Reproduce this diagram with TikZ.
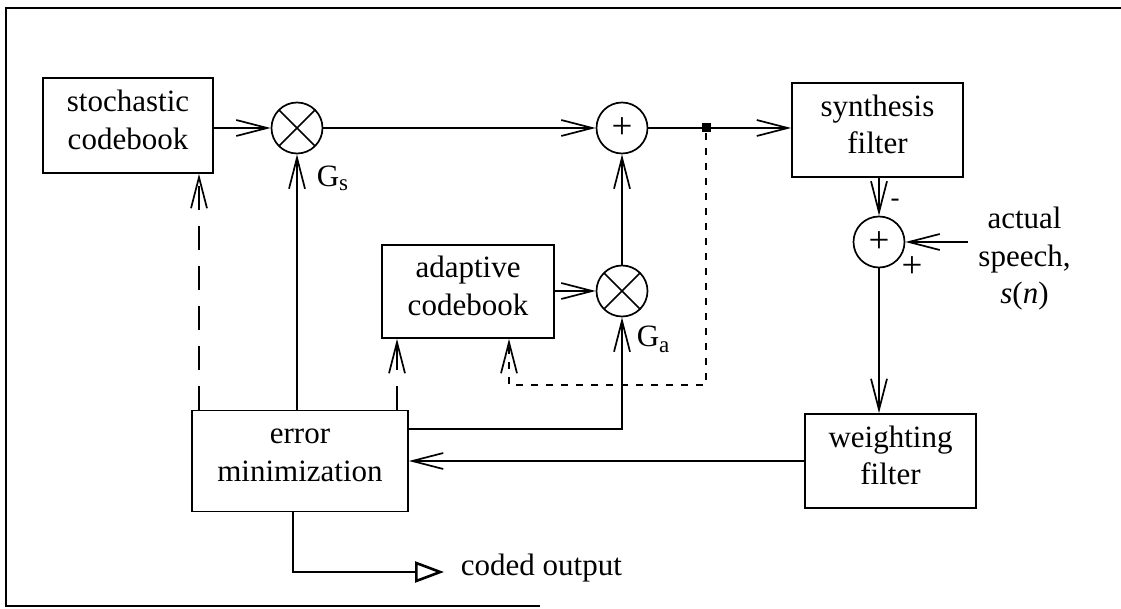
\documentclass[tikz,border=0pt]{standalone}
\usepackage{fontspec}
\setmainfont{Liberation Serif}
\usetikzlibrary{arrows.meta}
\begin{document}
\begin{tikzpicture}[x=1pt, y=-1pt, line width=1.7pt,
  font=\fontsize{31}{37.5}\selectfont,
  blk/.style={draw, align=center, inner sep=0pt,
    execute at begin node=\strut, execute at end node=\strut},
  sumnode/.style={circle, draw, minimum size=51pt, inner sep=0pt,
    font=\fontsize{37}{37}\selectfont},
  mulnode/.style={circle, draw, minimum size=51pt, inner sep=0pt,
    path picture={\draw[line width=1.7pt]
      (path picture bounding box.north west) -- (path picture bounding box.south east)
      (path picture bounding box.north east) -- (path picture bounding box.south west);}},
  sig/.style={-{Straight Barb[length=31pt,width=16pt]}},
  ctl/.style={sig, dash pattern=on 24pt off 16pt},
  fbk/.style={sig, dash pattern=on 7pt off 8pt},
  lbl/.style={anchor=base west, inner sep=0pt}]

\useasboundingbox (0,0) rectangle (1121,609);

% outer frame
\draw[line width=1.5pt] (1121,8) -- (6,8) -- (6,606) -- (540,606);

% blocks
\node (stoch) [blk, minimum width=170pt, minimum height=95pt] at (128,125.5) {stochastic\\codebook};
\node (synth) [blk, minimum width=171pt, minimum height=94pt] at (877.5,130) {synthesis\\filter};
\node (adapt) [blk, minimum width=172pt, minimum height=93pt] at (468,291.5) {adaptive\\codebook};
\node (err)   [blk, minimum width=216pt, minimum height=101pt] at (300,461) {error\\minimization};
\node (wf)    [blk, minimum width=171pt, minimum height=94pt] at (890.5,461) {weighting\\filter};

% multipliers and summers
\node (ms) [mulnode] at (297,128) {};
\node (ma) [mulnode] at (622,291) {};
\node (ps) [sumnode] at (622,128) {+};
\node (pe) [sumnode] at (879,242) {+};

% branch point
\node (jn) [fill, minimum size=9pt, inner sep=0pt] at (706,128) {};

% labels
\node (gs) [lbl] at (316,187) {G\raisebox{-4pt}{\fontsize{23}{23}\selectfont s}};
\node (ga) [lbl] at (636,346) {G\raisebox{-6pt}{\fontsize{23}{23}\selectfont a}};
\node (minus) [font=\fontsize{27}{27}\selectfont] at (895,203) {-};
\node (plus) [font=\fontsize{37}{37}\selectfont] at (912,267) {+};
\node (speech) [align=center, inner sep=10pt,
  execute at begin node=\strut, execute at end node=\strut]
  at (1024.5,261) {actual\\speech,\\\textit{s}(\textit{n})};
\node (coded) [lbl] at (460,575) {coded output};

% column positions of the control lines
\coordinate (xsd) at (199,0);
\coordinate (xad) at (397,0);
\coordinate (xfb) at (509,0);
\coordinate (xout) at (293,0);
\coordinate (gaturn) at (622,429);
\coordinate (fbR) at (706,385);
\coordinate (fbL) at (509,385);
\coordinate (outtip) at (444,572);

% signal path
\draw[sig] (stoch.east |- ms) -- (ms);
\draw[sig] (ms) -- (ps);
\draw[sig] (ma) -- (ps);
\draw[sig] (adapt.east |- ma) -- (ma);
\draw[sig] (ps) -- (synth.west |- ps);
\draw[sig] (synth.south -| pe) -- (pe);
\draw[sig] (speech.west |- pe) -- (pe);
\draw[sig] (pe) -- (wf.north -| pe);
\draw[sig] (wf.west) -- (wf.west -| err.east);

% gain controls
\draw[sig] (err.north -| ms) -- (ms);
\draw[sig] (err.east |- gaturn) -- (gaturn) -- (ma);

% codebook index controls
\draw[ctl] (err.north -| xsd) -- (stoch.south -| xsd);
\draw[ctl] (err.north -| xad) -- (adapt.south -| xad);

% excitation fed back to the adaptive codebook
\draw[fbk] (jn.south) -- (fbR) -- (fbL) -- (adapt.south -| xfb);

% coded output
\draw[line width=2.6pt, -{Triangle[open,length=29pt,width=21pt]}] (err.south -| xout) |- (outtip);
\end{tikzpicture}
\end{document}
